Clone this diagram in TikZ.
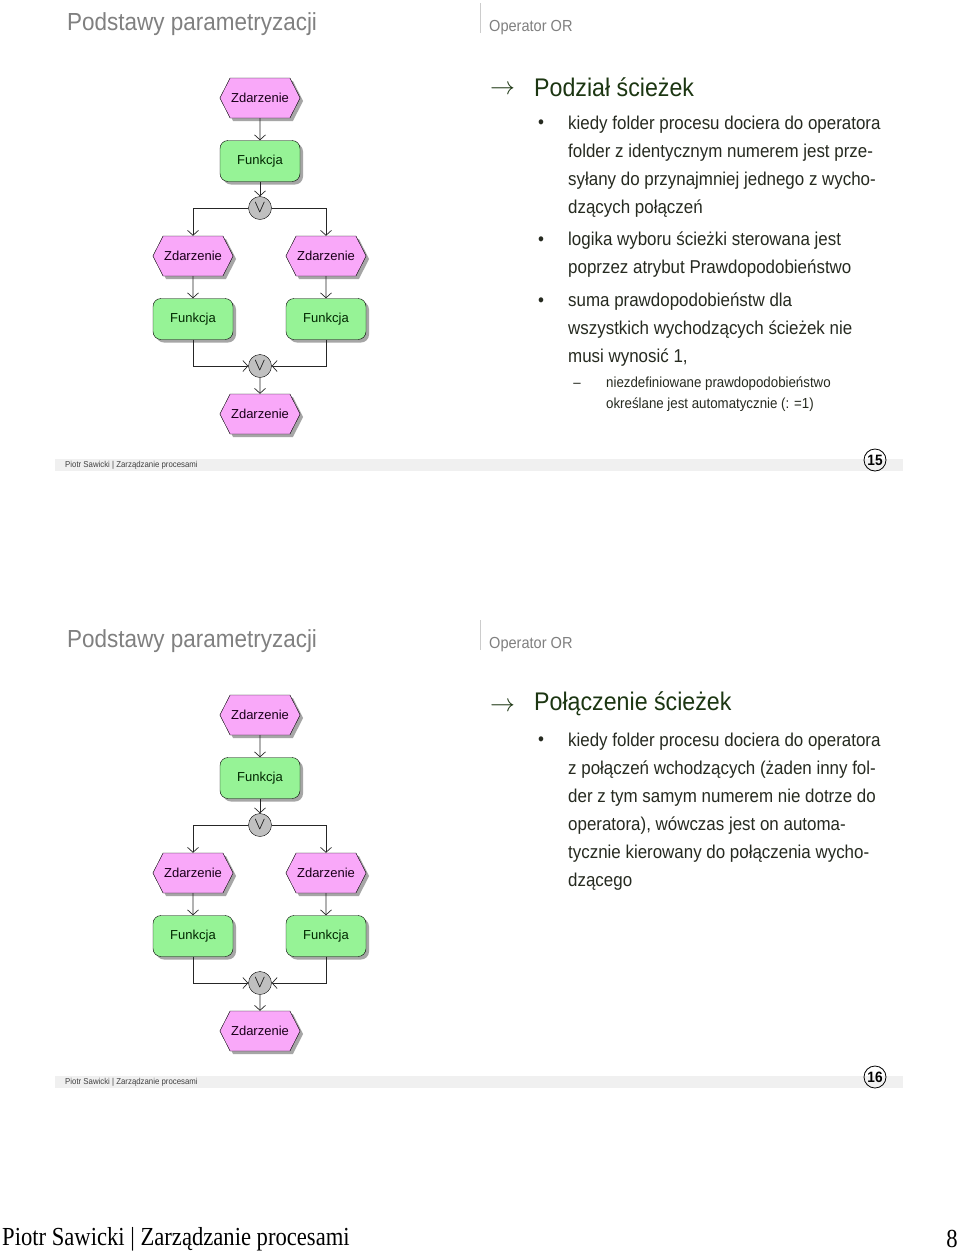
\documentclass[tikz,border=0pt]{standalone}
\usepackage{fontspec}
\setmainfont{Liberation Sans}
\newfontfamily\condfont{Liberation Sans}[FakeStretch=0.91]
\newfontfamily\serfont{Liberation Serif}[FakeStretch=0.87]
\usepackage{xcolor}
\definecolor{evpink}{RGB}{249,168,249}
\definecolor{fngreen}{RGB}{150,243,150}
\definecolor{orgray}{RGB}{192,192,192}
\definecolor{hdgray}{RGB}{128,128,128}
\definecolor{txgreen}{RGB}{28,54,18}
\definecolor{txdark}{RGB}{38,42,32}
\definecolor{footgray}{RGB}{240,240,240}
\usetikzlibrary{arrows.meta,positioning,shapes.symbols,shadows}
\tikzset{
  evnode/.style={draw, signal, signal to=east and west, signal pointer angle=126,
                 fill=evpink, font=\fontsize{13}{15}\selectfont, text=black!80!violet,
                 minimum width=80pt, minimum height=40pt, inner sep=1pt,
                 drop shadow={shadow xshift=3pt, shadow yshift=-3pt, fill=black!35, opacity=1}},
  fnnode/.style={draw, rounded corners=8pt, fill=fngreen, font=\fontsize{13}{15}\selectfont,
                 text=black!85!green, minimum width=80pt, minimum height=41pt,
                 drop shadow={shadow xshift=3pt, shadow yshift=-3pt, fill=black!35, opacity=1}},
  ornode/.style={draw, circle, fill=orgray, minimum size=23pt, inner sep=0pt,
                 font=\fontsize{18}{18}\selectfont},
  flow/.style={-{Straight Barb[length=5pt, width=11pt]}, line width=0.7pt, black!85},
  slidetitle/.style={anchor=west, inner sep=0pt, font=\condfont\fontsize{24.7}{28}\selectfont, text=hdgray},
  sectitle/.style={anchor=west, inner sep=0pt, font=\condfont\fontsize{16}{18}\selectfont, text=hdgray},
  heading/.style={anchor=west, inner sep=0pt, font=\condfont\fontsize{25.5}{30}\selectfont, text=txgreen},
  headarrow/.style={anchor=west, inner sep=0pt, font=\fontsize{26}{26}\selectfont, text=txgreen},
  bulletdot/.style={inner sep=0pt, font=\condfont\fontsize{18.6}{28}\selectfont, text=txdark},
  item/.style={anchor=north west, inner sep=0pt, align=left, font=\condfont\fontsize{18.6}{28}\selectfont, text=txdark},
  subitem/.style={anchor=north west, inner sep=0pt, align=left, font=\condfont\fontsize{14.6}{20.5}\selectfont, text=txdark},
  foottext/.style={anchor=west, inner sep=0pt, font=\condfont\fontsize{8.6}{10}\selectfont, text=black!75},
  pagenum/.style={draw, circle, line width=0.8pt, minimum size=22pt, inner sep=0pt, font=\condfont\bfseries\fontsize{15}{15}\selectfont},
}

\begin{document}
\begin{tikzpicture}[x=1pt, y=-1pt]

\path[use as bounding box, fill=white] (0,0) rectangle (960,1254);

% two slides with the same frame and OR diagram
\foreach \s/\dy/\pg in {a/0/15, b/617/16} {
\begin{scope}[shift={(0,\dy)}]
% header
\node[slidetitle] (title\s) at (67,24) {Podstawy parametryzacji};
\draw[black!20, line width=0.8pt] (480,3) -- (480,33);
\node[sectitle] (sect\s) at (489,28) {Operator OR};

% split
\node[evnode] (ev1\s) at (260,98) {Zdarzenie};
\node[fnnode] (fn1\s) at (260,161) {Funkcja};
\node[ornode] (or1\s) at (260,208) {$\vee$};
\node[evnode] (ev2\s) at (193,256) {Zdarzenie};
\node[evnode] (ev3\s) at (326,256) {Zdarzenie};
\node[fnnode] (fn2\s) at (193,319) {Funkcja};
\node[fnnode] (fn3\s) at (326,319) {Funkcja};

% join
\node[ornode] (or2\s) at (260,366) {$\vee$};
\node[evnode] (ev4\s) at (260,414) {Zdarzenie};

\draw[flow] (ev1\s) -- (fn1\s);
\draw[flow] (fn1\s) -- (or1\s);
\draw[flow] (or1\s) -| (ev2\s);
\draw[flow] (or1\s) -| (ev3\s);
\draw[flow] (ev2\s) -- (fn2\s);
\draw[flow] (ev3\s) -- (fn3\s);
\draw[flow] (fn2\s) |- (or2\s);
\draw[flow] (fn3\s) |- (or2\s);
\draw[flow] (or2\s) -- (ev4\s);

% footer
\fill[footgray] (55,459) rectangle (903,471);
\node[foottext] (foot\s) at (65,465) {Piotr Sawicki | Zarządzanie procesami};
\node[pagenum] (pg\s) at (875,460) {\pg};
\end{scope}
}

% slide 15
\node[headarrow] (arrow1) at (490,89.5) {$\rightarrow$};
\node[heading] (head1) at (534,87) {Podział ścieżek};
\node[bulletdot] (dot1) at (541,124) {•};
\node[item] (item1) at (568,116) {kiedy folder procesu dociera do operatora\\folder z identycznym numerem jest prze-\\syłany do przynajmniej jednego z wycho-\\dzących połączeń};
\node[bulletdot] (dot2) at (541,241) {•};
\node[item] (item2) at (568,232) {logika wyboru ścieżki sterowana jest\\poprzez atrybut Prawdopodobieństwo};
\node[bulletdot] (dot3) at (541,302) {•};
\node[item] (item3) at (568,293) {suma prawdopodobieństw dla\\wszystkich wychodzących ścieżek nie\\musi wynosić 1,};
\node[subitem, anchor=center] (dash1) at (577,385) {–};
\node[subitem] (sub1) at (606,377) {niezdefiniowane prawdopodobieństwo\\określane jest automatycznie (: =1)};

% slide 16
\node[headarrow] (arrow2) at (490,706.5) {$\rightarrow$};
\node[heading] (head2) at (534,704) {Połączenie ścieżek};
\node[bulletdot] (dot4) at (541,741) {•};
\node[item] (item4) at (568,733) {kiedy folder procesu dociera do operatora\\z połączeń wchodzących (żaden inny fol-\\der z tym samym numerem nie dotrze do\\operatora), wówczas jest on automa-\\tycznie kierowany do połączenia wycho-\\dzącego};

% page footer
\node[anchor=west, inner sep=0pt, font=\serfont\fontsize{26}{30}\selectfont] (docfoot) at (2,1239) {Piotr Sawicki | Zarządzanie procesami};
\node[anchor=east, inner sep=0pt, font=\serfont\fontsize{26}{30}\selectfont] (docpage) at (958,1239) {8};

\end{tikzpicture}
\end{document}
